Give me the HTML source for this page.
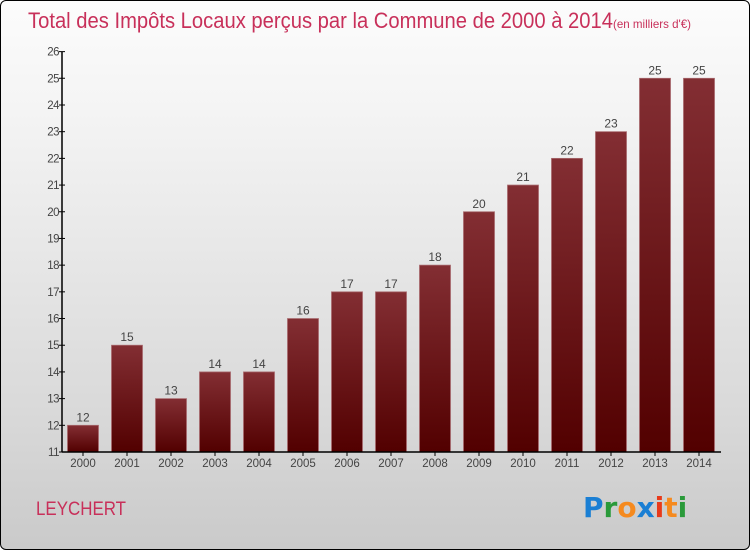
<!DOCTYPE html>
<html><head><meta charset="utf-8"><style>
html,body{margin:0;padding:0}
body{width:750px;height:550px;overflow:hidden;font-family:"Liberation Sans",sans-serif}
#wrap{position:absolute;left:0;top:0;width:748px;height:548px;border:1px solid #000;border-radius:6px;background:linear-gradient(#fcfcfc,#f4f4f4 20%,#d9d9d9 75%,#cacaca);overflow:hidden}
</style></head><body>
<div id="wrap">
<svg width="750" height="550" id="svg">
<defs><linearGradient id="bg" x1="0" y1="0" x2="0" y2="1"><stop offset="0" stop-color="#832e33"/><stop offset="1" stop-color="#520000"/></linearGradient></defs>
<text x="27" y="27" font-size="22" fill="#c8305a"><tspan textLength="585" lengthAdjust="spacingAndGlyphs">Total des Impôts Locaux perçus par la Commune de 2000 à 2014</tspan><tspan font-size="12" textLength="78" lengthAdjust="spacingAndGlyphs">(en milliers d'€)</tspan></text>
<text x="35" y="514" font-size="19" fill="#c8305a" textLength="90" lengthAdjust="spacingAndGlyphs">LEYCHERT</text>
<g font-size="28" font-family="'DejaVu Sans',sans-serif" font-weight="bold">
<text x="582" y="516"><tspan fill="#1a7fd4">P</tspan><tspan fill="#2a9a3a">r</tspan><tspan fill="#f58a1f">o</tspan><tspan fill="#1a7fd4">x</tspan><tspan fill="#e83a1a">i</tspan><tspan fill="#f58a1f">t</tspan><tspan fill="#2a9a3a">i</tspan></text></g>
<g id="plot"></g>
</svg></div>
<script>
const categories=["2000","2001","2002","2003","2004","2005","2006","2007","2008","2009","2010","2011","2012","2013","2014"];
const values=[12,15,13,14,14,16,17,17,18,20,21,22,23,25,25];
const yTicks=[11,12,13,14,15,16,17,18,19,20,21,22,23,24,25,26];
const NS="http://www.w3.org/2000/svg";
const g=document.getElementById('plot');
const yMin=11,yMax=26,y0=451,y1=50.6,x0=61,step=44,bw=31;
function y(v){return y0-(v-yMin)*(y0-y1)/(yMax-yMin);}
function xc(i){return 82+i*step;}
function el(t,a,txt){const e=document.createElementNS(NS,t);for(const k in a)e.setAttribute(k,a[k]);if(txt!==undefined)e.textContent=txt;g.appendChild(e);return e;}
values.forEach((v,i)=>{
 const r=el('rect',{x:xc(i)-bw/2,y:y(v),width:bw,height:y0-y(v),fill:'url(#bg)',stroke:'#a86a6e','stroke-width':0.8});
 
 
 const t=el('text',{x:xc(i),y:y(v)-4,'text-anchor':'middle','font-size':12,fill:'#444'},String(v));
 
 
 const c=el('text',{x:xc(i),y:466,'text-anchor':'middle','font-size':11.5,fill:'#444'},categories[i]);
 
 
 const tk=el('line',{x1:xc(i),x2:xc(i),y1:y0,y2:y0+4,stroke:'#000'});
 
 
});
yTicks.forEach(v=>{
 const t=el('text',{x:x0-3,y:y(v)+4,'text-anchor':'end','font-size':11.5,fill:'#444','letter-spacing':'-0.5'},String(v));
 
 
 const l=el('line',{x1:x0-3,x2:x0+3,y1:y(v),y2:y(v),stroke:'#000'});
 
 
});
const ya=el('line',{x1:x0,x2:x0,y1:y1,y2:y0,stroke:'#000','stroke-width':1.5});


const xa=el('line',{x1:x0,x2:720,y1:y0,y2:y0,stroke:'#000','stroke-width':1.5});


</script>
</body></html>
